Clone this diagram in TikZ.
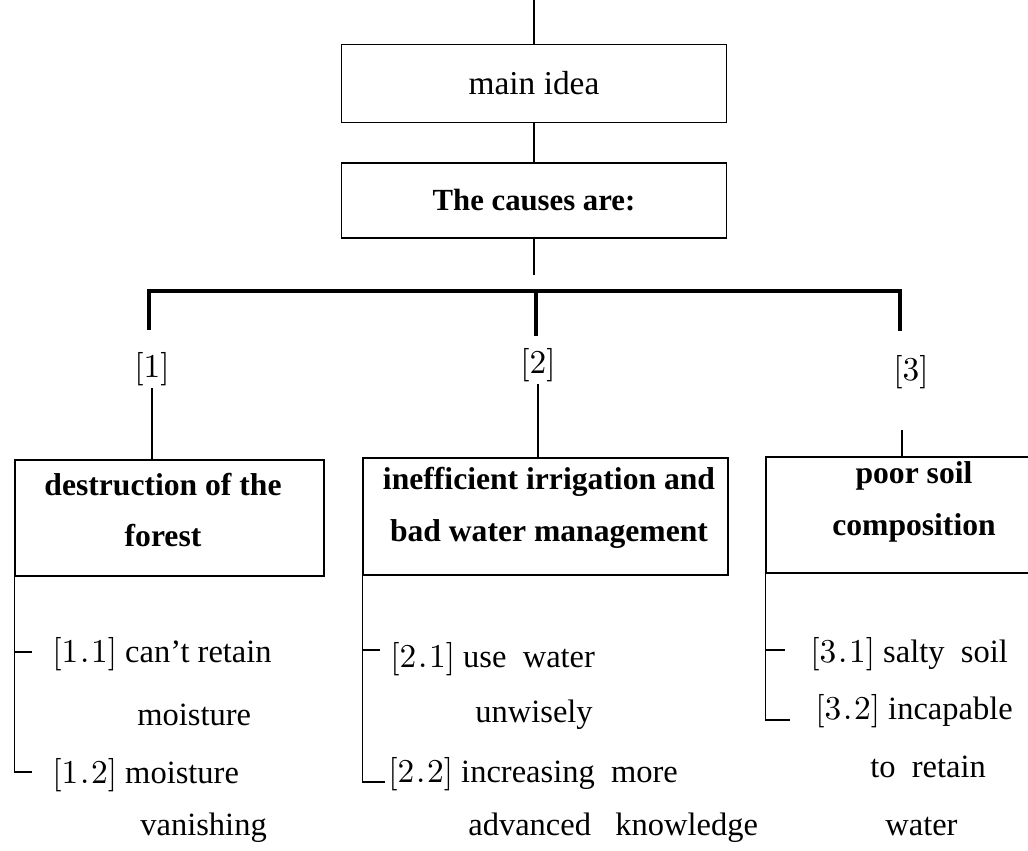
\documentclass[tikz,border=0pt]{standalone}
\usepackage{fontspec}
\setmainfont{Liberation Serif}
\newfontfamily\numfont{lmroman10-regular.otf}
\newcommand{\etiq}[1]{{\numfont\fontsize{19}{22}\selectfont[#1]}}
\newcommand{\subetiq}[2]{{\numfont\fontsize{19}{22}\selectfont[#1\kern1pt.\kern1pt#2]}}
\begin{document}
\begin{tikzpicture}[x=0.02cm, y=-0.02cm,
    caja/.style={draw, line width=0.8pt, inner sep=0pt},
    causa/.style={font=\bfseries\fontsize{18}{29.5}\selectfont, align=center, inner sep=0pt},
    texto/.style={font=\fontsize{18.5}{22}\selectfont, anchor=base west, inner sep=0pt},
    numero/.style={inner sep=1pt},
    linea/.style={line width=0.7pt},
    barra/.style={line width=1.8pt}
  ]
  \useasboundingbox (0,0) rectangle (1028,850);

  %Cajas de arriba
  \node[caja, minimum width=7.7cm, minimum height=1.56cm, font=\fontsize{19}{22}\selectfont] (idea) at (534,83.5) {main idea};
  \node[caja, minimum width=7.7cm, minimum height=1.5cm, font=\bfseries\fontsize{17.5}{20}\selectfont] (causas) at (534,200.5) {The causes are:};
  \coordinate (arriba) at (534,0);
  \coordinate (fin) at (534,275);
  \draw[linea] (arriba) -- (idea);
  \draw[linea] (idea) -- (causas);
  \draw[linea] (causas) -- (fin);

  %Barra horizontal
  \coordinate (ci) at (149,291);
  \coordinate (cm) at (536,291);
  \coordinate (cd) at (900,291);
  \coordinate (bi) at (149,330);
  \coordinate (bm) at (536,336);
  \coordinate (bd) at (900,331);
  \draw[barra] (bi) -- (ci) -- (cd) -- (bd);
  \draw[barra] (cm) -- (bm);

  %Numeros de las causas
  \node[numero] (n1) at (152,369) {\etiq{1}};
  \node[numero] (n2) at (538,365) {\etiq{2}};
  \node[numero] (n3) at (911,372) {\etiq{3}};

  %Cajas de las causas
  \node[caja, minimum width=6.18cm, minimum height=2.32cm] (bosque) at (169.5,518) {};
  \node[caja, minimum width=7.3cm, minimum height=2.34cm] (riego) at (545.5,516.5) {};
  \node[caja, minimum width=5.92cm, minimum height=2.32cm] (suelo) at (914,515) {};
  \node[causa] (tbosque) at (163,510) {destruction of the\\forest};
  \node[causa] (triego) at (549,508) {inefficient irrigation and\\bad water management};
  \node[causa] (tsuelo) at (914,502) {poor soil\\composition};

  \coordinate (n3a) at (902,430);
  \draw[linea] (n1) -- (n1 |- bosque.north);
  \draw[linea] (n2) -- (n2 |- riego.north);
  \draw[linea] (n3a) -- (n3a |- suelo.north);

  %Corchetes
  \coordinate (g1a) at (32,652);
  \coordinate (g1) at (32,772);
  \coordinate (g2a) at (380,650);
  \coordinate (g2) at (385,782);
  \coordinate (g3a) at (785,650);
  \coordinate (g3) at (790,720);
  \draw[linea] (bosque.south west) |- (g1);
  \draw[linea] (g1a -| bosque.west) -- (g1a);
  \draw[linea] (riego.south west) |- (g2);
  \draw[linea] (g2a -| riego.west) -- (g2a);
  \draw[linea] (suelo.south west) |- (g3);
  \draw[linea] (g3a -| suelo.west) -- (g3a);

  %Textos de cada causa
  \node[texto] (t11) at (52,662) {\subetiq{1}{1} can’t retain};
  \node[texto] (t11b) at (137,725) {moisture};
  \node[texto] (t12) at (52,783) {\subetiq{1}{2} moisture};
  \node[texto] (t12b) at (140,835) {vanishing};

  \node[texto] (t21) at (390,667) {\subetiq{2}{1}\ use\ \ water};
  \node[texto] (t21b) at (475,722) {unwisely};
  \node[texto] (t22) at (388,782) {\subetiq{2}{2}\ increasing\ \ more};
  \node[texto] (t22b) at (468,835) {advanced\ \ \ knowledge};

  \node[texto] (t31) at (810,662) {\subetiq{3}{1} salty\ \ soil};
  \node[texto] (t32) at (815,719) {\subetiq{3}{2}\ incapable};
  \node[texto] (t32b) at (870,777) {to\ \ retain};
  \node[texto] (t32c) at (885,835) {water};
\end{tikzpicture}
\end{document}
